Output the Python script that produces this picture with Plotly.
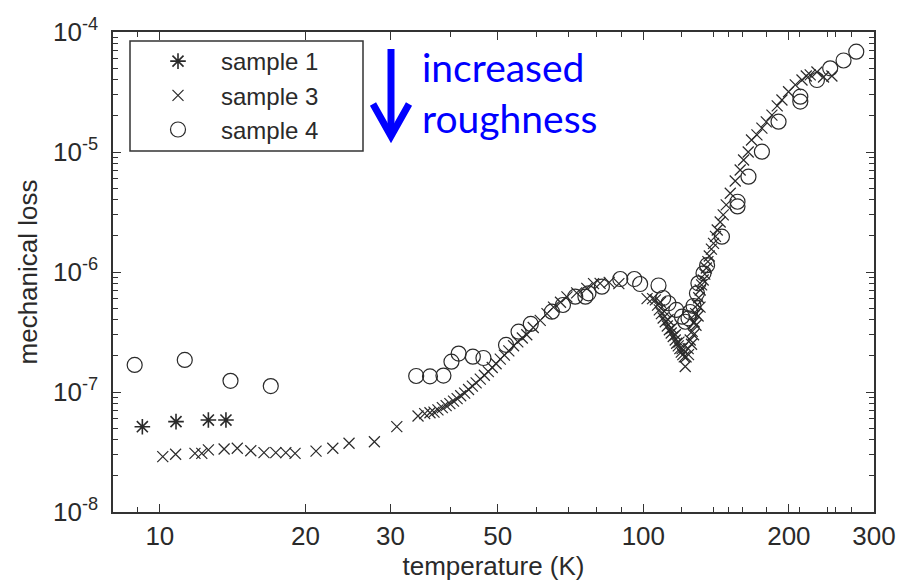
import numpy as np
import plotly.graph_objects as go

# ---------------- data ----------------
s1_T = [9.2, 10.8, 12.6, 13.7]
s1_L = [5.14e-8, 5.66e-8, 5.84e-8, 5.84e-8]

s3_T = [10.14, 10.78, 11.82, 12.21, 12.60, 13.58, 14.46, 15.42, 16.42, 17.37, 18.22, 19.04,
        21.04, 22.79, 24.62, 27.78, 30.91, 34.2, 35.3, 36.2, 36.9, 37.6, 38.4, 39.1, 39.8,
        40.5, 41.2, 41.9, 42.7, 43.5, 44.3, 45.1, 46.0, 46.9, 47.8, 48.7, 49.6, 50.6, 51.6,
        52.7, 53.9, 55.0, 56.2, 57.4, 59.2, 61.2, 63.2, 65.2, 67.4, 69.5, 72.8, 76.4, 78.9,
        81.4, 85.0, 89.0, 101.8,
        104.5, 105.9, 107.0, 107.9, 109.0, 109.9, 111.0, 112.1, 113.2, 114.2, 115.3, 116.4,
        117.2, 118.1, 119.0, 119.8, 120.7, 121.5, 122.1,
        108.5, 110.5, 112.5, 114.5, 116.5, 118.5, 120.3,
        122.6, 123.8, 125.0, 126.2, 127.4, 128.3, 129.3, 130.2, 131.1, 132.0, 133.0, 134.0,
        135.0, 136.0, 136.9, 138.3, 139.7, 141.0, 142.2, 144.2, 146.3, 148.4, 151.3, 154.9,
        158.6, 161.2, 164.8, 167.4, 171.8, 175.9, 179.6, 184.5, 189.2, 193.5, 199.7, 206.2,
        212.9, 217.3, 221.4, 228.6, 235.9, 245.5,
        124.0, 125.8, 127.0, 128.5, 129.8, 131.0]
s3_L = [2.89e-8, 3.03e-8, 3.08e-8, 3.08e-8, 3.29e-8, 3.35e-8, 3.40e-8, 3.24e-8, 3.12e-8,
        3.12e-8, 3.12e-8, 3.08e-8, 3.22e-8, 3.40e-8, 3.74e-8, 3.85e-8, 5.14e-8, 6.31e-8,
        6.6e-8, 6.72e-8, 6.8e-8, 7.1e-8, 7.4e-8, 7.7e-8, 8.0e-8, 8.4e-8, 8.8e-8, 9.3e-8,
        9.8e-8, 1.05e-7, 1.12e-7, 1.19e-7, 1.28e-7, 1.38e-7, 1.48e-7, 1.6e-7, 1.72e-7,
        1.88e-7, 2.03e-7, 2.2e-7, 2.43e-7, 2.62e-7, 2.82e-7, 3.0e-7, 3.45e-7, 3.95e-7,
        4.5e-7, 5.1e-7, 5.6e-7, 6.2e-7, 6.7e-7, 7.3e-7, 8.0e-7, 8.05e-7, 8.2e-7, 8.0e-7,
        6.0e-7,
        6.0e-7, 5.85e-7, 5.3e-7, 4.83e-7, 4.5e-7, 4.14e-7, 3.85e-7, 3.55e-7, 3.3e-7, 3.1e-7,
        2.9e-7, 2.71e-7, 2.55e-7, 2.42e-7, 2.3e-7, 2.15e-7, 2.05e-7, 1.96e-7, 1.63e-7,
        5.6e-7, 4.7e-7, 4.0e-7, 3.4e-7, 3.0e-7, 2.6e-7, 2.3e-7,
        1.96e-7, 2.3e-7, 2.71e-7, 3.2e-7, 3.83e-7, 4.5e-7, 5.31e-7, 6.1e-7, 7.08e-7, 7.8e-7,
        8.58e-7, 9.6e-7, 1.08e-6, 1.22e-6, 1.36e-6, 1.55e-6, 1.73e-6, 1.98e-6, 2.24e-6,
        2.61e-6, 2.99e-6, 3.62e-6, 4.53e-6, 5.73e-6, 7.08e-6, 8.58e-6, 1.0e-5, 1.26e-5,
        1.39e-5, 1.58e-5, 1.78e-5, 2.03e-5, 2.42e-5, 2.71e-5, 3.18e-5, 3.62e-5, 3.98e-5,
        4.3e-5, 4.39e-5, 4.64e-5, 4.22e-5, 4.3e-5,
        2.05e-7, 2.5e-7, 3.0e-7, 3.6e-7, 4.3e-7, 5.1e-7]

s4_T = [8.87, 11.26, 14.0, 16.96, 33.9, 36.2, 38.6, 40.1, 41.5, 44.4, 46.7, 52.0, 55.2, 58.5,
        64.7, 68.2, 72.3, 75.9, 77.0, 82.1, 89.6, 95.8, 98.5, 107.5, 109.9, 112.7, 117.0,
        120.2, 122.1, 124.0, 125.0, 127.0, 129.1, 130.0, 133.2, 135.5, 145.4, 156.6, 156.6,
        165.0, 175.9, 190.4, 211.2, 211.2, 228.6, 243.5, 259.5, 275.7]
s4_L = [1.68e-7, 1.85e-7, 1.24e-7, 1.12e-7, 1.36e-7, 1.35e-7, 1.37e-7, 1.79e-7, 2.09e-7,
        1.97e-7, 1.92e-7, 2.47e-7, 3.18e-7, 3.69e-7, 4.67e-7, 5.31e-7, 6.23e-7, 6.23e-7,
        6.64e-7, 7.54e-7, 8.74e-7, 8.74e-7, 7.94e-7, 7.72e-7, 6.07e-7, 5.49e-7, 4.83e-7,
        4.24e-7, 3.85e-7, 4.11e-7, 4.64e-7, 5.21e-7, 6.64e-7, 8.05e-7, 9.75e-7, 1.14e-6,
        1.97e-6, 3.85e-6, 3.52e-6, 6.23e-6, 1.006e-5, 1.79e-5, 2.89e-5, 2.63e-5, 3.98e-5,
        4.98e-5, 5.79e-5, 6.85e-5]

x_ticks = [10, 20, 30, 50, 100, 200, 300]
x_minor = [9, 40, 60, 70, 80, 90, 120, 140, 150, 160, 180, 210, 240, 250, 270]
y_ticks = [1e-8, 1e-7, 1e-6, 1e-5, 1e-4]
y_ticktext = ["10<sup>-8</sup>", "10<sup>-7</sup>", "10<sup>-6</sup>", "10<sup>-5</sup>", "10<sup>-4</sup>"]
y_minor = [k * 10.0 ** e for e in range(-8, -4) for k in range(2, 10)]

INK = "#2a2a2a"
FONT = "Liberation Sans, Arial, Helvetica, sans-serif"
FS = 26

fig = go.Figure()
fig.add_trace(go.Scatter(x=s1_T, y=s1_L, mode="markers", name="sample 1",
                         marker=dict(symbol="asterisk-open", size=13, color=INK,
                                     line=dict(width=1.6, color=INK))))
fig.add_trace(go.Scatter(x=s3_T, y=s3_L, mode="markers", name="sample 3",
                         marker=dict(symbol="x-thin-open", size=11, color=INK,
                                     line=dict(width=1.2, color=INK))))
fig.add_trace(go.Scatter(x=s4_T, y=s4_L, mode="markers", name="sample 4",
                         marker=dict(symbol="circle-open", size=15, color=INK,
                                     line=dict(width=1.2, color=INK))))

axis_common = dict(type="log", showgrid=False, zeroline=False, showline=True,
                   linecolor="#333", linewidth=1.5, mirror="allticks", ticks="inside",
                   ticklen=8, tickwidth=1.3, tickcolor="#333",
                   tickfont=dict(family=FONT, size=FS, color=INK))

fig.update_xaxes(**axis_common, range=[np.log10(8), np.log10(300)], tickmode="array",
                 tickvals=x_ticks, ticktext=[str(v) for v in x_ticks],
                 minor=dict(tickmode="array", tickvals=x_minor, ticks="inside", ticklen=5,
                            tickwidth=1.2, tickcolor="#333", showgrid=False),
                 title=dict(text="temperature (K)", standoff=2,
                            font=dict(family=FONT, size=FS, color=INK)))
fig.update_yaxes(**axis_common, range=[-8, -4], tickmode="array", tickvals=y_ticks,
                 ticktext=y_ticktext, ticklabelstandoff=8,
                 minor=dict(tickmode="array", tickvals=y_minor, ticks="inside", ticklen=5,
                            tickwidth=1.2, tickcolor="#333", showgrid=False),
                 title=dict(text="mechanical loss", standoff=8,
                            font=dict(family=FONT, size=FS, color=INK)))

W, H = 901, 583
ML, MR, MT, MB = 113, 27, 32, 71
PW, PH = W - ML - MR, H - MT - MB


def px(x):
    return (x - ML) / PW


def py(y):
    return (H - MB - y) / PH


BLUE = "rgb(0,0,255)"
fig.update_layout(
    width=W, height=H, margin=dict(l=ML, r=MR, t=MT, b=MB, autoexpand=False),
    plot_bgcolor="white", paper_bgcolor="white",
    font=dict(family=FONT, size=FS, color=INK),
    showlegend=True,
    legend=dict(x=px(135), y=py(39), xanchor="left", yanchor="top",
                bgcolor="rgba(0,0,0,0)", borderwidth=0, itemwidth=76,
                tracegroupgap=0,
                font=dict(family=FONT, size=24, color=INK)),
    shapes=[
        dict(type="rect", xref="paper", yref="paper", x0=px(130), x1=px(363),
             y0=py(151), y1=py(41), line=dict(color="#333", width=1.5)),
        dict(type="line", xref="paper", yref="paper", x0=px(391), x1=px(391),
             y0=py(49), y1=py(132), line=dict(color=BLUE, width=7)),
        dict(type="path", xref="paper", yref="paper",
             path=f"M {px(373)},{py(104)} L {px(391)},{py(136)} L {px(409)},{py(104)}",
             line=dict(color=BLUE, width=7)),
    ],
    annotations=[
        dict(text="increased<br>roughness", xref="paper", yref="paper", x=px(420),
             y=py(42), xanchor="left", yanchor="top", showarrow=False, align="left",
             font=dict(family="Lato, Open Sans, sans-serif", size=39, color=BLUE)),
    ],
)

fig.write_html("out.html")
